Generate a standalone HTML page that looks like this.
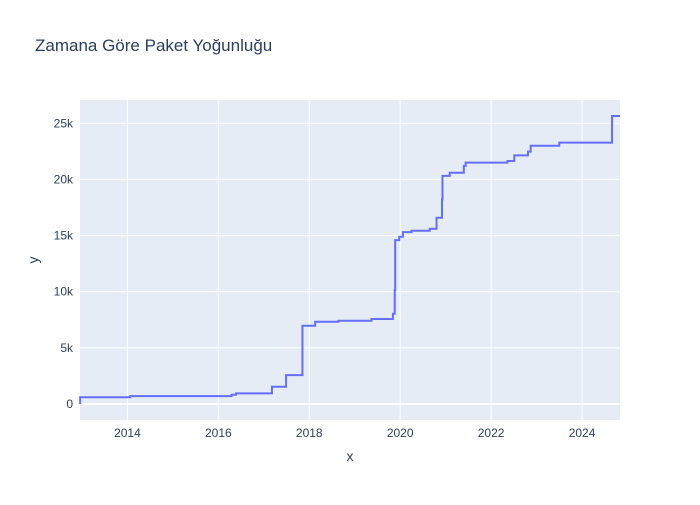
<!DOCTYPE html>
<html><head><meta charset="utf-8"><style>
body{margin:0;background:#fff;font-family:"Liberation Sans",sans-serif}
svg text{font-family:"Liberation Sans",sans-serif;fill:#2a3f5f}
</style></head><body>
<svg id="chart" width="700" height="500">
<text x="35" y="51" font-size="17">Zamana Göre Paket Yoğunluğu</text>
<rect x="80" y="100" width="540" height="320" fill="#e5ecf6"/>
<g id="grid"></g><g id="series"></g><g id="ticks"></g>
<text x="350" y="461" font-size="14" text-anchor="middle">x</text>
<text x="0" y="0" font-size="14" text-anchor="middle" transform="translate(38,260) rotate(-90)">y</text>
</svg>
<script>
const years=[2012.96,2014.06,2016.29,2016.39,2017.18,2017.49,2017.85,2018.13,2018.64,2019.37,2019.84,2019.88,2019.89,2019.98,2020.06,2020.25,2020.65,2020.80,2020.92,2020.93,2021.09,2021.40,2021.44,2022.36,2022.51,2022.81,2022.87,2023.50,2024.66];
const values=[600,710,830,950,1540,2580,6970,7330,7420,7570,8040,10150,14600,14900,15310,15430,15610,16590,18220,20320,20590,21210,21490,21640,22140,22470,23000,23270,25640];
const xTicks=[2014,2016,2018,2020,2022,2024];
const yTicks=[0,5000,10000,15000,20000,25000];
const yTickLabels=["0","5k","10k","15k","20k","25k"];
const X0=2012.957,X1=2024.835,Y0=-1420,Y1=27070;
const xs=v=>80+(v-X0)/(X1-X0)*540;
const ys=v=>420-(v-Y0)/(Y1-Y0)*320;
const NS="http://www.w3.org/2000/svg";
const grid=document.getElementById('grid'),tk=document.getElementById('ticks'),ser=document.getElementById('series');
xTicks.forEach(t=>{
 const l=document.createElementNS(NS,'line');
 
 
 l.setAttribute('x1',xs(t));l.setAttribute('x2',xs(t));l.setAttribute('y1',100);l.setAttribute('y2',420);
 l.setAttribute('stroke','#fff');l.setAttribute('stroke-width',1);grid.appendChild(l);
 const tx=document.createElementNS(NS,'text');
 
 
 tx.setAttribute('x',xs(t));tx.setAttribute('y',437);tx.setAttribute('font-size',12);tx.setAttribute('text-anchor','middle');
 tx.textContent=t;tk.appendChild(tx);
});
yTicks.forEach((t,i)=>{
 const l=document.createElementNS(NS,'line');
 
 
 l.setAttribute('x1',80);l.setAttribute('x2',620);l.setAttribute('y1',ys(t));l.setAttribute('y2',ys(t));
 l.setAttribute('stroke','#fff');l.setAttribute('stroke-width',t===0?2:1);grid.appendChild(l);
 const tx=document.createElementNS(NS,'text');
 
 
 tx.setAttribute('x',73);tx.setAttribute('y',ys(t)+4);tx.setAttribute('font-size',12);tx.setAttribute('text-anchor','end');
 tx.textContent=yTickLabels[i];tk.appendChild(tx);
});
let d='M'+xs(years[0])+','+ys(0)+' L'+xs(years[0])+','+ys(values[0]);
for(let i=1;i<years.length;i++){d+=' H'+xs(years[i])+' V'+ys(values[i]);}
d+=' H'+xs(X1);
const p=document.createElementNS(NS,'path');


p.setAttribute('d',d);p.setAttribute('fill','none');p.setAttribute('stroke','#636efa');p.setAttribute('stroke-width',2);
ser.appendChild(p);
</script>
</body></html>
